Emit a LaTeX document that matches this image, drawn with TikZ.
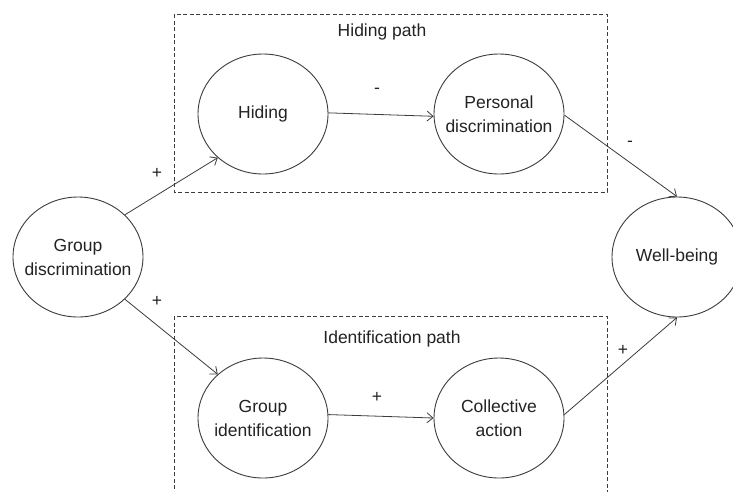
\documentclass[tikz,border=0pt]{standalone}
\usepackage{fontspec}
\setmainfont{Liberation Sans}
\usetikzlibrary{shapes.geometric,arrows.meta}
\definecolor{ink}{RGB}{35,35,35}
\definecolor{linec}{RGB}{60,60,60}
\tikzset{
  var/.style={ellipse, draw=linec, line width=0.9pt, inner ysep=0pt, inner xsep=-12pt,
    minimum width=130pt, minimum height=120pt, align=center, text=ink,
    font=\fontsize{17.5}{24}\selectfont},
  conn/.style={draw=linec, line width=0.8pt, -{Straight Barb[length=6pt,width=10pt,line width=0.8pt]}},
  pathbox/.style={draw=linec, line width=0.8pt, dash pattern=on 4pt off 2.5pt},
  lbl/.style={text=ink, inner sep=0pt, font=\fontsize{17.5}{21}\selectfont},
}
\begin{document}
\begin{tikzpicture}[x=1pt,y=-1pt]
\clip (0,0) rectangle (733,491);
\useasboundingbox (0,0) rectangle (733,491);
\fill[white] (0,0) rectangle (733,491);
% path boxes
\draw[pathbox] (174,14) rectangle (607,192);
\draw[pathbox] (174,316) rectangle (607,520);
\node[lbl] (hpath) at (382,32) {Hiding path};
\node[lbl] (ipath) at (392,339) {Identification path};
% variables
\node[var] (gd) at (78,257) {Group\\discrimination};
\node[var] (hid) at (263,114) {Hiding};
\node[var] (pd) at (499,114) {Personal\\discrimination};
\node[var] (gi) at (263,418) {Group\\identification};
\node[var] (ca) at (499,418) {Collective\\action};
\node[var] (wb) at (677,257) {Well-being};
% connectors
\draw[conn] (gd.42) -- (hid.-136);
\draw[conn] (gd.-42) -- (gi.136);
\draw[conn] (hid.1) -- (pd.182);
\draw[conn] (gi.3) -- (ca.180);
\draw[conn] (pd.-1) -- (wb.north);
\draw[conn] (ca.3) -- (wb.south);
% signs
\node[lbl] (s1) at (157,173) {+};
\node[lbl] (s2) at (157,301) {+};
\node[lbl] (s3) at (377,91) {-};
\node[lbl] (s4) at (377,397) {+};
\node[lbl] (s5) at (630,144) {-};
\node[lbl] (s6) at (623,350) {+};
\end{tikzpicture}
\end{document}
